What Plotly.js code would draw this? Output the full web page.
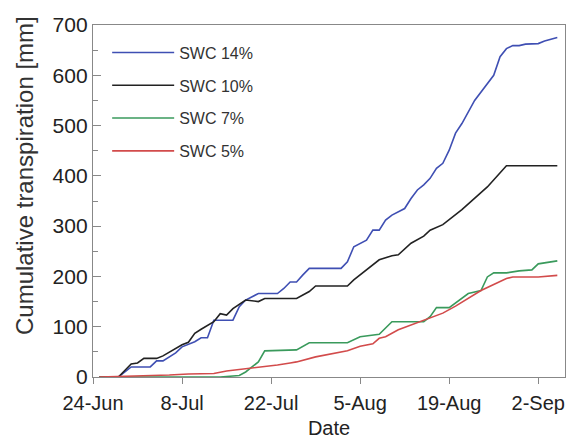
<!DOCTYPE html>
<html>
<head>
<meta charset="utf-8">
<script src="https://cdn.plot.ly/plotly-3.0.1.min.js"></script>
<style>html,body{margin:0;padding:0;background:#fff;}#chart{width:570px;height:439px;}</style>
</head>
<body>
<div id="chart"></div>
<script>
// Series names
const seriesNames = ["SWC 14%", "SWC 10%", "SWC 7%", "SWC 5%"];

// SWC 14%
const swc14Dates = ["2013-06-25","2013-06-28","2013-06-30","2013-07-03","2013-07-04","2013-07-05","2013-07-07","2013-07-08","2013-07-10","2013-07-11","2013-07-12","2013-07-13","2013-07-16","2013-07-17","2013-07-18","2013-07-20","2013-07-23","2013-07-24","2013-07-25","2013-07-26","2013-07-27","2013-07-28","2013-08-02","2013-08-03","2013-08-04","2013-08-06","2013-08-07","2013-08-08","2013-08-09","2013-08-10","2013-08-12","2013-08-13","2013-08-14","2013-08-15","2013-08-16","2013-08-17","2013-08-18","2013-08-19","2013-08-20","2013-08-21","2013-08-23","2013-08-24","2013-08-25","2013-08-26","2013-08-27","2013-08-28","2013-08-29","2013-08-30","2013-08-31","2013-09-02","2013-09-03","2013-09-05"];
const swc14Values = [0,0,20,20,32,32,48,60,70,78,78,113,113,140,153,166,166,176,189,189,203,216,216,229,259,272,292,292,312,322,335,355,372,382,395,415,425,451,485,504,550,567,584,600,637,653,659,659,662,663,668,675];

// SWC 10%
const swc10Dates = ["2013-06-25","2013-06-28","2013-06-30","2013-07-01","2013-07-02","2013-07-04","2013-07-05","2013-07-07","2013-07-08","2013-07-09","2013-07-10","2013-07-11","2013-07-13","2013-07-14","2013-07-15","2013-07-16","2013-07-18","2013-07-20","2013-07-21","2013-07-26","2013-07-28","2013-07-29","2013-08-03","2013-08-04","2013-08-06","2013-08-08","2013-08-10","2013-08-11","2013-08-13","2013-08-15","2013-08-16","2013-08-18","2013-08-21","2013-08-25","2013-08-28","2013-09-05"];
const swc10Values = [0,0,26,28,37,37,42,57,64,69,87,95,110,126,123,136,153,150,156,156,170,181,181,193,213,233,241,243,266,280,292,303,333,378,420,420];

// SWC 7%
const swc7Dates = ["2013-06-25","2013-07-14","2013-07-17","2013-07-18","2013-07-19","2013-07-20","2013-07-21","2013-07-26","2013-07-28","2013-08-03","2013-08-05","2013-08-06","2013-08-08","2013-08-10","2013-08-15","2013-08-16","2013-08-17","2013-08-19","2013-08-22","2013-08-24","2013-08-25","2013-08-26","2013-08-28","2013-08-30","2013-09-01","2013-09-02","2013-09-05"];
const swc7Values = [0,0,3,10,20,30,52,54,68,68,80,82,85,110,110,120,138,138,166,172,199,207,207,211,213,225,231];

// SWC 5%
const swc5Dates = ["2013-06-25","2013-06-29","2013-07-03","2013-07-06","2013-07-09","2013-07-13","2013-07-15","2013-07-18","2013-07-20","2013-07-23","2013-07-25","2013-07-26","2013-07-29","2013-07-31","2013-08-03","2013-08-05","2013-08-07","2013-08-08","2013-08-09","2013-08-11","2013-08-14","2013-08-16","2013-08-18","2013-08-20","2013-08-22","2013-08-24","2013-08-26","2013-08-28","2013-08-29","2013-09-02","2013-09-05"];
const swc5Values = [0,1,2,4,6,7,12,16,19,24,28,30,40,45,52,61,66,77,80,94,108,117,127,141,157,172,184,196,199,199,202];

const seriesDates = [swc14Dates, swc10Dates, swc7Dates, swc5Dates];
const seriesValues = [swc14Values, swc10Values, swc7Values, swc5Values];
const seriesColors = ["#3f4fb3", "#222222", "#3a9a5c", "#d24b4b"];

const traces = seriesNames.map((name, i) => ({
  type: "scatter",
  mode: "lines",
  name: name,
  x: seriesDates[i],
  y: seriesValues[i],
  legendgroup: "g" + i,
  line: {color: seriesColors[i], width: 1.6}
}));

const font = "Liberation Sans, Arial, sans-serif";
const W = 570, H = 439, L = 93, R = 5, T = 25, B = 62;
const pw = W - L - R, ph = H - T - B;

const layout = {
  width: W, height: H,
  margin: {l: L, r: R, t: T, b: B, pad: 0},
  paper_bgcolor: "#ffffff",
  plot_bgcolor: "#ffffff",
  font: {family: font, color: "#222222", size: 20},
  showlegend: true,
  legend: {
    x: 0.03, y: 0.97, xanchor: "left", yanchor: "top",
    bgcolor: "rgba(0,0,0,0)",
    font: {family: font, size: 16, color: "#333333"},
    itemwidth: 62,
    tracegroupgap: 9
  },
  xaxis: {
    type: "date",
    range: ["2013-06-24", "2013-09-06 05:00"],
    tick0: "2013-06-24",
    dtick: 14 * 86400000,
    tickformat: "%-d-%b",
    ticks: "outside",
    ticklen: 6,
    tickcolor: "#888888",
    showline: true,
    linecolor: "#888888",
    linewidth: 1.2,
    mirror: true,
    showgrid: false,
    zeroline: false,
    tickfont: {size: 20, family: font, color: "#222222"},
    ticklabelstandoff: 2,
    title: {text: "Date", font: {size: 20, family: font, color: "#222222"}, standoff: 9}
  },
  yaxis: {
    range: [0, 700],
    dtick: 100,
    ticks: "inside",
    ticklen: 8,
    tickcolor: "#888888",
    minor: {dtick: 50, ticks: "inside", ticklen: 5, tickcolor: "#888888"},
    showline: true,
    linecolor: "#888888",
    linewidth: 1.2,
    mirror: true,
    showgrid: false,
    zeroline: false,
    tickfont: {size: 21, family: font, color: "#222222"}
  },
  annotations: [{
    text: "Cumulative transpiration [mm]",
    xref: "paper", yref: "paper",
    x: (24 - L) / pw, y: (H - B - 176) / ph,
    xanchor: "center", yanchor: "middle",
    textangle: -90,
    showarrow: false,
    font: {size: 24, family: font, color: "#333333"}
  }]
};

Plotly.newPlot("chart", traces, layout, {displayModeBar: false, staticPlot: true});
</script>
</body>
</html>
